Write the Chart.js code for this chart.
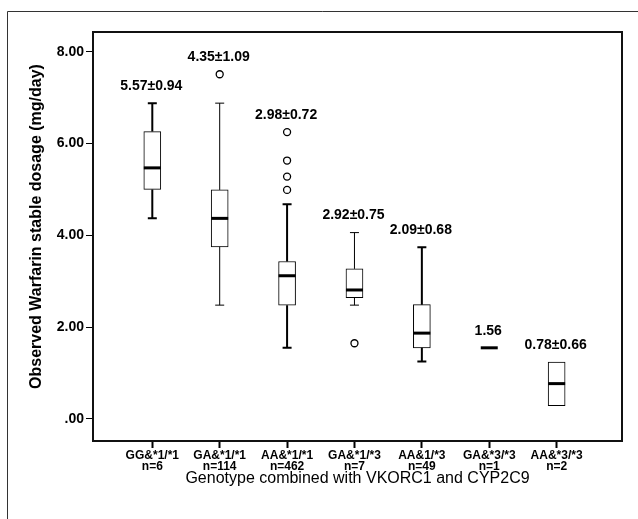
<!DOCTYPE html>
<html lang="en">
<head>
    <meta charset="UTF-8">
    <title>Warfarin dosage by genotype</title>
    <script src="https://cdn.jsdelivr.net/npm/chart.js"></script>
    <style>
        body {
            margin: 0;
            padding: 0;
            background: #fff;
        }

        .chart-box {
            width: 638px;
            height: 519px;
            position: relative;
        }
    </style>
</head>
<body>
    <div class="chart-box">
        <canvas id="boxChart"></canvas>
    </div>

    <script>
        // Data
        const categories = ['GG&*1/*1', 'GA&*1/*1', 'AA&*1/*1', 'GA&*1/*3', 'AA&1/*3', 'GA&*3/*3', 'AA&*3/*3'];
        const counts = [6, 114, 462, 7, 49, 1, 2];
        const whiskerLow = [4.37, 2.48, 1.55, 2.48, 1.25, 1.55, 0.29];
        const q1 = [5.00, 3.75, 2.48, 2.64, 1.55, 1.55, 0.29];
        const median = [5.47, 4.37, 3.12, 2.81, 1.87, 1.55, 0.77];
        const q3 = [6.26, 4.99, 3.43, 3.27, 2.49, 1.55, 1.24];
        const whiskerHigh = [6.88, 6.88, 4.68, 4.06, 3.74, 1.55, 1.24];
        const outliers = [[], [7.51], [6.25, 5.63, 5.28, 4.99], [1.65], [], [], []];
        const meanSd = ['5.57±0.94', '4.35±1.09', '2.98±0.72', '2.92±0.75', '2.09±0.68', '1.56', '0.78±0.66'];
        const yTicks = [0, 2, 4, 6, 8];
        const yTitle = 'Observed Warfarin stable dosage (mg/day)';

        // whisker stroke per group (SPSS drew some heavier)
        const whiskerWidth = [2, 1, 2, 1, 2, 1, 1];

        const FONT = "'Liberation Sans', Arial, sans-serif";
        Chart.defaults.font.family = FONT;
        Chart.defaults.color = '#000';

        // whiskers, medians, mean labels and the frame
        const boxParts = {
            id: 'boxParts',
            beforeDraw(chart) {
                const ctx = chart.ctx;
                ctx.save();
                ctx.strokeStyle = '#333';
                ctx.lineWidth = 1;
                ctx.beginPath();
                ctx.moveTo(7.5, chart.height);
                ctx.lineTo(7.5, 11.5);
                ctx.lineTo(chart.width, 11.5);
                ctx.stroke();
                ctx.restore();
            },
            afterDatasetsDraw(chart) {
                const { ctx, scales: { x, y } } = chart;
                const half = 8.5;
                const cap = 4.5;
                ctx.save();
                ctx.strokeStyle = '#000';
                categories.forEach((c, i) => {
                    const cx = x.getPixelForValue(i);
                    ctx.lineWidth = whiskerWidth[i];
                    if (whiskerHigh[i] > q3[i]) {
                        const top = y.getPixelForValue(whiskerHigh[i]);
                        ctx.beginPath();
                        ctx.moveTo(cx, y.getPixelForValue(q3[i]));
                        ctx.lineTo(cx, top);
                        ctx.moveTo(cx - cap, top);
                        ctx.lineTo(cx + cap, top);
                        ctx.stroke();
                    }
                    if (whiskerLow[i] < q1[i]) {
                        const bot = y.getPixelForValue(whiskerLow[i]);
                        ctx.beginPath();
                        ctx.moveTo(cx, y.getPixelForValue(q1[i]));
                        ctx.lineTo(cx, bot);
                        ctx.moveTo(cx - cap, bot);
                        ctx.lineTo(cx + cap, bot);
                        ctx.stroke();
                    }
                    // median
                    const ym = y.getPixelForValue(median[i]);
                    ctx.lineWidth = 3;
                    ctx.beginPath();
                    ctx.moveTo(cx - half, ym);
                    ctx.lineTo(cx + half, ym);
                    ctx.stroke();

                    // mean ± sd above the highest mark
                    const topVal = Math.max(whiskerHigh[i], ...outliers[i]);
                    ctx.fillStyle = '#000';
                    ctx.font = 'bold 14px ' + FONT;
                    ctx.textAlign = 'center';
                    ctx.textBaseline = 'middle';
                    ctx.fillText(meanSd[i], cx - 1, y.getPixelForValue(topVal) - 17);
                });
                ctx.restore();
            },
            afterDraw(chart) {
                const { ctx, chartArea: a } = chart;
                ctx.save();
                ctx.strokeStyle = '#111';
                ctx.lineWidth = 2;
                ctx.strokeRect(a.left, a.top, a.right - a.left, a.bottom - a.top);

                // y axis title, centred where the original sits
                ctx.fillStyle = '#000';
                ctx.font = 'bold 16px ' + FONT;
                ctx.textAlign = 'center';
                ctx.textBaseline = 'middle';
                ctx.translate(37, (a.top + a.bottom) / 2 - 10);
                ctx.rotate(-Math.PI / 2);
                ctx.fillText(yTitle, 0, 0);
                ctx.restore();
            }
        };

        const ctx = document.getElementById('boxChart').getContext('2d');

        new Chart(ctx, {
            type: 'bar',
            data: {
                datasets: [
                    {
                        type: 'scatter',
                        data: outliers.flatMap((arr, i) => arr.map(v => ({ x: i, y: v }))),
                        pointStyle: 'circle',
                        pointRadius: 3.5,
                        borderWidth: 1.3,
                        borderColor: '#000',
                        backgroundColor: '#fff'
                    },
                    {
                        type: 'bar',
                        data: categories.map((c, i) => ({ x: i, y: [q1[i], q3[i]] })),
                        backgroundColor: '#fff',
                        borderColor: '#000',
                        borderWidth: 1,
                        borderSkipped: false,
                        barThickness: 17
                    }
                ]
            },
            options: {
                responsive: true,
                maintainAspectRatio: false,
                animation: false,
                layout: { padding: { top: 32, right: 16, left: 0, bottom: 0 } },
                plugins: {
                    legend: { display: false },
                    tooltip: { enabled: false }
                },
                scales: {
                    x: {
                        type: 'linear',
                        min: -0.88,
                        max: 6.97,
                        offset: false,
                        afterBuildTicks: s => { s.ticks = categories.map((c, i) => ({ value: i })); },
                        afterFit: s => { s.height = 78; },
                        ticks: {
                            callback: v => [categories[v], 'n=' + counts[v]],
                            font: { size: 12, weight: 'bold', lineHeight: 0.9 },
                            color: '#000',
                            padding: 2,
                            maxRotation: 0,
                            autoSkip: false
                        },
                        grid: {
                            offset: false,
                            drawOnChartArea: false,
                            tickLength: 7,
                            tickWidth: 2,
                            tickColor: '#000',
                            color: '#000'
                        },
                        border: { display: false },
                        title: {
                            display: true,
                            text: 'Genotype combined with VKORC1 and CYP2C9',
                            font: { size: 16 },
                            color: '#000',
                            padding: { top: 0, bottom: 31 }
                        }
                    },
                    y: {
                        min: -0.48,
                        max: 8.43,
                        afterBuildTicks: s => { s.ticks = yTicks.map(v => ({ value: v })); },
                        afterFit: s => { s.width = 93; },
                        ticks: {
                            callback: v => v === 0 ? '.00' : v.toFixed(2),
                            font: { size: 14, weight: 'bold' },
                            color: '#000',
                            padding: 2
                        },
                        grid: { drawOnChartArea: false, tickLength: 7, tickColor: '#000', color: '#000' },
                        border: { display: false },
                        title: { display: false }
                    }
                }
            },
            plugins: [boxParts]
        });
    </script>
</body>
</html>
